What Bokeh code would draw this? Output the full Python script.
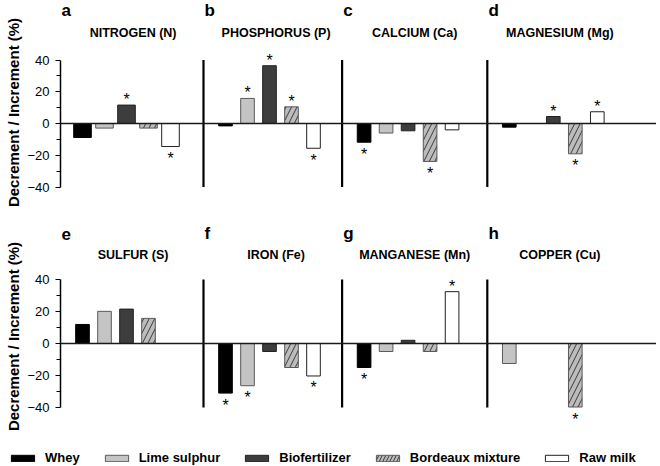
import math
from bokeh.plotting import figure
from bokeh.layouts import column
from bokeh.models import Range1d, FixedTicker, Span, Legend, LegendItem
from bokeh.core.properties import value
from bokeh.embed import file_html
from bokeh.resources import INLINE

NAN = float("nan")

# ---------------- data ----------------
TREATMENTS = ["Whey", "Lime sulphur", "Biofertilizer", "Bordeaux mixture", "Raw milk"]

LETTERS_TOP = ["a", "b", "c", "d"]
TITLES_TOP = ["NITROGEN (N)", "PHOSPHORUS (P)", "CALCIUM (Ca)", "MAGNESIUM (Mg)"]
LETTERS_BOTTOM = ["e", "f", "g", "h"]
TITLES_BOTTOM = ["SULFUR (S)", "IRON (Fe)", "MANGANESE (Mn)", "COPPER (Cu)"]

# % change for [Whey, Lime sulphur, Biofertilizer, Bordeaux mixture, Raw milk]
NITROGEN = [-8.8, -2.9, 11.6, -2.9, -14.5]
PHOSPHORUS = [-1.5, 15.8, 36.4, 10.5, -15.6]
CALCIUM = [-11.8, -6.0, -4.6, -23.9, -4.0]
MAGNESIUM = [-2.3, NAN, 4.4, -19.1, 7.4]
SULFUR = [11.9, 20.1, 21.5, 15.7, NAN]
IRON = [-31.0, -26.4, -5.0, -15.0, -20.3]
MANGANESE = [-15.0, -5.0, 2.0, -5.0, 32.4]
COPPER = [NAN, -12.5, NAN, -39.7, NAN]

# significance (asterisk) flags
SIG_NITROGEN = [0, 0, 1, 0, 1]
SIG_PHOSPHORUS = [0, 1, 1, 1, 1]
SIG_CALCIUM = [1, 0, 0, 1, 0]
SIG_MAGNESIUM = [0, 0, 1, 1, 1]
SIG_SULFUR = [0, 0, 0, 0, 0]
SIG_IRON = [1, 1, 0, 0, 1]
SIG_MANGANESE = [1, 0, 0, 0, 1]
SIG_COPPER = [0, 0, 0, 1, 0]

# category slot of each treatment inside a panel
SLOTS = [1, 2, 3, 4, 5]
COPPER_SLOTS = [0, 1, 2, 4, 5]

Y_TICKS = [-40, -20, 0, 20, 40]
Y_MINOR = [-30, -10, 10, 30]
Y_LABEL = "Decrement / Increment (%)"

# ---------------- style / layout ----------------
FONT = "Liberation Sans"
FILL = ["#000000", "#c4c4c4", "#3d3d3d", "#bcbcbc", "#ffffff"]
LINE = ["#000000", "#5a5a5a", "#222222", "#5a5a5a", "#222222"]
HATCH = [None, None, None, "/", None]

SLOT_PX = 22.0
LEFT_BORDER = 60
FRAME_W = 596
X_MAX = FRAME_W / SLOT_PX
PANEL_START = [0.0, 6.5, 12.8, 19.4]
TITLE_DX = 3.3
LETTER_DX = 0.05


def bar_style(t, hatch_scale):
    return dict(fill_color=FILL[t], line_color=LINE[t], line_width=1,
                hatch_pattern=HATCH[t], hatch_color="#3a3a3a",
                hatch_scale=hatch_scale, hatch_weight=1)


def make_row(values, sigs, slots, letters, titles, bar_w, height,
             zero_px, px_per_unit, letter_px, title_px):
    y_top = zero_px / px_per_unit
    y_bot = -(height - zero_px) / px_per_unit

    def to_data(py):
        return (zero_px - py) / px_per_unit

    p = figure(width=LEFT_BORDER + FRAME_W, height=height, title=None,
               x_range=Range1d(0, X_MAX), y_range=Range1d(y_bot, y_top),
               x_axis_location=None, y_axis_location="left",
               toolbar_location=None, output_backend="svg",
               min_border=0, min_border_left=LEFT_BORDER,
               outline_line_color=None)
    p.grid.visible = False

    ax = p.yaxis[0]
    ax.bounds = (-40, 40)
    ax.ticker = FixedTicker(ticks=Y_TICKS, minor_ticks=Y_MINOR)
    ax.major_tick_out = 5
    ax.major_tick_in = 0
    ax.minor_tick_out = 4
    ax.minor_tick_in = 0
    ax.axis_line_width = 1.5
    ax.axis_line_color = "#000000"
    ax.major_tick_line_color = "#000000"
    ax.minor_tick_line_color = "#000000"
    ax.major_label_text_font = FONT
    ax.major_label_text_font_size = "13px"
    ax.major_label_text_color = "#000000"
    ax.major_label_standoff = 6
    ax.axis_label = Y_LABEL
    ax.axis_label_text_font = FONT
    ax.axis_label_text_font_size = "15px"
    ax.axis_label_text_font_style = "bold"
    ax.axis_label_text_color = "#000000"
    ax.axis_label_standoff = 2

    # bars, one renderer per treatment
    bar_data = {}
    for t in range(len(TREATMENTS)):
        xs, tops, ws = [], [], []
        for k in range(4):
            v = values[k][t]
            if not math.isnan(v):
                xs.append(PANEL_START[k] + slots[k][t])
                tops.append(v)
                ws.append(bar_w[k])
        if not xs:
            continue
        p.vbar(x=xs, top=tops, bottom=0, width=ws, **bar_style(t, 11))
        bar_data[t] = (xs, tops, ws)

    # asterisks
    ax_x, ax_y, ax_off = [], [], []
    for k in range(4):
        for t in range(len(TREATMENTS)):
            v = values[k][t]
            if sigs[k][t] and not math.isnan(v):
                ax_x.append(PANEL_START[k] + slots[k][t])
                ax_y.append(v)
                ax_off.append(-5.5 if v > 0 else 12)
    if ax_x:
        p.text(x=ax_x, y=ax_y, text=["*"] * len(ax_x), y_offset=ax_off,
               text_font=value(FONT), text_font_size=value("16px"),
               text_align="center", text_baseline="alphabetic", text_color="#000000")

    # panel separators
    seps = PANEL_START[1:]
    p.segment(x0=seps, y0=[-40] * len(seps), x1=seps, y1=[40] * len(seps),
              line_color="#000000", line_width=2.2)

    # zero line
    p.add_layout(Span(location=0, dimension="width", line_color="#1a1a1a",
                      line_width=1.3))

    # panel letters and titles
    p.text(x=[s + LETTER_DX for s in PANEL_START], y=[to_data(letter_px)] * 4,
           text=letters, text_font=value(FONT), text_font_size=value("17px"),
           text_font_style=value("bold"), text_align="left",
           text_baseline="alphabetic", text_color="#000000")
    p.text(x=[s + TITLE_DX for s in PANEL_START], y=[to_data(title_px)] * 4,
           text=titles, text_font=value(FONT), text_font_size=value("12.5px"),
           text_font_style=value("bold"), text_align="center",
           text_baseline="alphabetic", text_color="#000000")
    return p, bar_data


top, _ = make_row([NITROGEN, PHOSPHORUS, CALCIUM, MAGNESIUM],
                  [SIG_NITROGEN, SIG_PHOSPHORUS, SIG_CALCIUM, SIG_MAGNESIUM],
                  [SLOTS] * 4, LETTERS_TOP, TITLES_TOP,
                  [0.8, 0.62, 0.62, 0.62],
                  height=224, zero_px=123, px_per_unit=1.5875,
                  letter_px=10, title_px=32.5)

bottom, bdata = make_row([SULFUR, IRON, MANGANESE, COPPER],
                         [SIG_SULFUR, SIG_IRON, SIG_MANGANESE, SIG_COPPER],
                         [SLOTS, SLOTS, SLOTS, COPPER_SLOTS], LETTERS_BOTTOM, TITLES_BOTTOM,
                         [0.62, 0.62, 0.62, 0.62],
                         height=224, zero_px=119, px_per_unit=1.6,
                         letter_px=9, title_px=30.5)

# legend strip (its own frame starts at the left edge of the page)
lf = figure(width=LEFT_BORDER + FRAME_W, height=18, title=None,
            x_range=Range1d(0, X_MAX), y_range=Range1d(1000, 1001),
            x_axis_location=None, y_axis_location=None,
            toolbar_location=None, output_backend="svg",
            min_border=0, outline_line_color=None)
try:
    lf.frame_align = False
except Exception:
    pass
lf.grid.visible = False
items = []
for t in range(len(TREATMENTS)):
    if t not in bdata:
        continue
    xs, tops, ws = bdata[t]
    r = lf.vbar(x=xs, top=tops, bottom=0, width=ws, **bar_style(t, 7))
    items.append(LegendItem(label=TREATMENTS[t], renderers=[r]))
leg = Legend(items=items, orientation="horizontal", location=(8, 1),
             border_line_color=None, background_fill_alpha=0, padding=0, margin=0,
             spacing=22, glyph_width=29, glyph_height=8, label_standoff=8,
             label_height=8, label_width=0,
             label_text_font=FONT, label_text_font_size="13px",
             label_text_font_style="bold", label_text_color="#000000")
lf.add_layout(leg)

layout = column(top, bottom, lf, spacing=0)

open("out.html", "w").write(file_html(layout, INLINE))
